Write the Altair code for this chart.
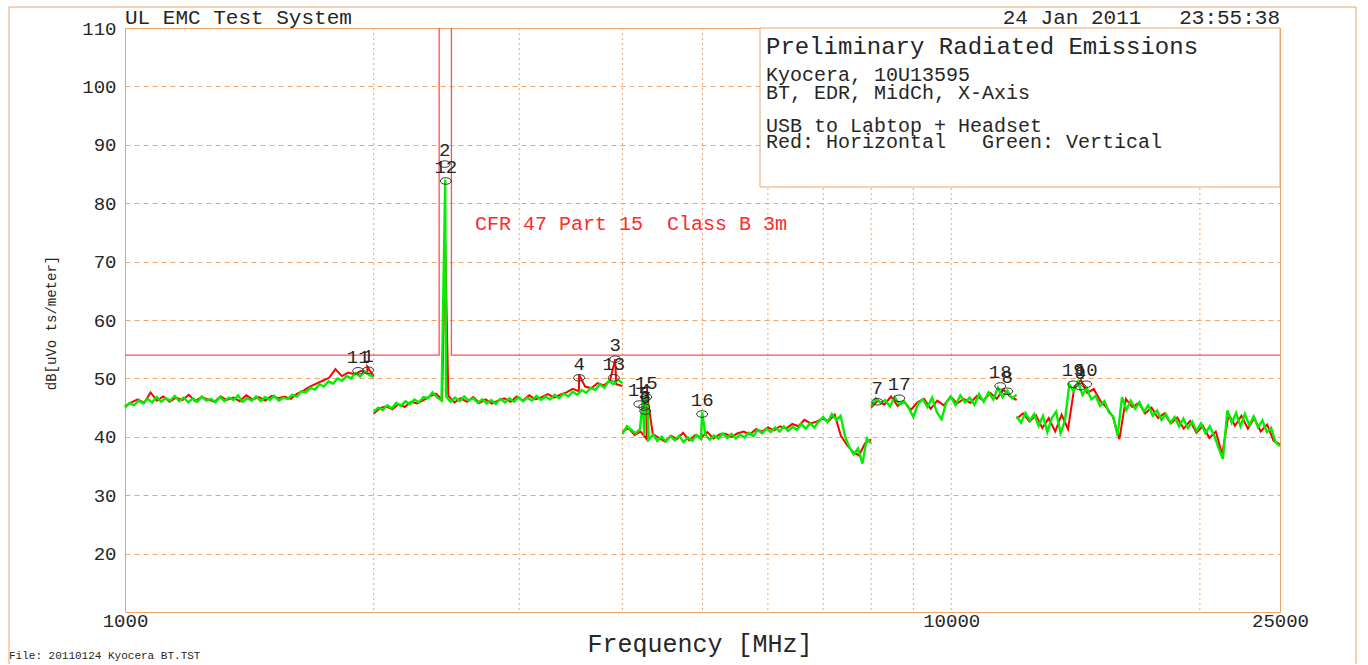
import numpy as np
import pandas as pd
import altair as alt

# ---- sweep bands (MHz); each band is a separate analyzer sweep ----
BAND_START = [1000, 2000, 4000, 8000, 12000]
BAND_STOP = [2000, 4000, 8000, 12000, 25000]

# ---- vertical polarization (green) peak readings, dBuV/m, per band ----
VERT_1 = [45.0, 45.8, 45.4, 46.2, 45.7, 46.5, 45.9, 46.8, 46.0, 46.6, 46.2, 47.0, 46.1, 46.7,
          45.9, 46.6, 46.0, 46.9, 46.2, 46.5, 45.9, 46.8, 46.1, 46.7, 46.3, 47.1, 46.0, 46.6,
          46.2, 46.9, 46.1, 46.8, 46.3, 47.0, 46.2, 46.7, 46.5, 47.2, 46.9, 47.8, 47.6, 48.4,
          48.1, 49.0, 48.6, 49.5, 49.1, 50.0, 49.6, 50.4, 50.0, 50.9, 50.3, 51.2, 50.6, 50.2]
VERT_2 = [44.3, 45.0, 44.6, 45.4, 44.9, 45.8, 45.3, 46.1, 45.6, 46.4, 45.9, 46.8, 46.6, 47.6,
          46.8, 46.2, 46.9, 46.0, 46.7, 46.1, 46.9, 46.2, 46.6, 45.8, 46.4, 45.7, 46.3, 45.6,
          46.5, 45.9, 46.6, 46.0, 46.8, 46.1, 46.7, 46.2, 47.0, 46.3, 46.9, 46.4, 47.2, 46.6,
          47.4, 46.9, 47.7, 47.2, 48.0, 47.5, 48.4, 48.0, 49.0, 48.4, 49.6, 49.0, 49.8, 49.2]
VERT_3 = [40.5, 41.8, 41.2, 40.6, 41.3, 40.2, 39.5, 40.4, 39.3, 40.0, 39.2, 40.1, 39.4, 40.2,
          39.1, 39.9, 39.3, 40.3, 39.6, 40.4, 39.5, 40.2, 39.7, 40.6, 39.8, 40.5, 39.7, 40.4,
          39.9, 40.7, 40.1, 41.2, 40.6, 41.4, 40.8, 41.6, 40.9, 41.8, 41.0, 41.7, 41.2, 42.2,
          41.4, 42.3, 41.6, 42.6, 43.4, 42.5, 43.9, 42.9, 43.6, 40.1, 38.2, 37.0, 38.0, 35.4,
          39.7, 38.9]
VERT_4 = [45.3, 46.6, 45.8, 46.3, 45.2, 46.8, 45.6, 46.1, 44.9, 43.4, 45.7, 46.4, 45.1, 46.7,
          44.2, 43.0, 45.9, 46.8, 45.4, 47.1, 45.9, 46.7, 45.5, 47.3, 46.0, 47.6, 46.4, 48.4,
          46.8, 47.9, 46.6, 47.2]
VERT_5 = [43.5, 42.4, 44.1, 42.8, 43.9, 41.9, 43.6, 40.8, 43.2, 44.3, 40.6, 42.8, 49.0, 47.8,
          49.4, 47.2, 48.3, 46.4, 47.0, 45.3, 46.1, 44.2, 43.5, 40.2, 46.8, 44.6, 46.2, 44.8,
          45.9, 44.3, 45.4, 43.6, 44.5, 42.9, 43.9, 42.4, 43.4, 41.8, 43.1, 41.5, 42.6, 41.0,
          42.3, 40.6, 41.8, 40.2, 38.1, 36.2, 44.5, 42.4, 44.1, 41.8, 43.9, 42.0, 43.5, 41.6,
          42.8, 40.8, 41.5, 39.0, 38.4]

# ---- horizontal polarization (red) peak readings, dBuV/m, per band ----
HORZ_1 = [45.2, 45.9, 46.4, 45.8, 47.6, 46.2, 46.9, 46.0, 46.7, 46.3, 47.2, 46.1, 46.8, 46.4,
          46.0, 46.9, 46.3, 46.7, 46.1, 47.1, 46.4, 46.8, 46.2, 47.0, 46.6, 46.9, 46.5, 47.4,
          47.9, 48.6, 49.1, 49.6, 50.1, 51.6, 50.4, 51.0, 50.7, 51.3, 50.8, 50.3]
HORZ_2 = [44.0, 44.9, 45.2, 44.7, 45.6, 45.1, 46.0, 45.7, 46.3, 46.9, 47.4, 46.4, 47.0, 45.9,
          46.6, 46.0, 46.8, 45.8, 46.4, 45.7, 46.2, 46.6, 46.0, 46.9, 46.2, 47.1, 46.4, 46.8,
          47.3, 46.7, 47.2, 47.6, 48.2, 47.8, 48.6, 48.3, 49.2, 48.8, 49.6, 49.0, 48.7]
HORZ_3 = [40.9, 41.5, 40.3, 40.9, 39.6, 40.5, 39.8, 39.2, 40.2, 39.6, 40.7, 39.4, 40.3, 39.9,
          40.8, 39.7, 40.4, 40.5, 40.0, 40.6, 40.9, 40.4, 41.3, 40.9, 41.6, 41.1, 41.8, 41.4,
          42.2, 41.8, 42.9, 42.3, 42.6, 43.1, 42.7, 43.8, 40.2, 38.6, 37.4, 36.8, 38.9, 39.5]
HORZ_4 = [45.0, 46.2, 45.5, 46.9, 45.3, 46.0, 44.6, 45.9, 46.5, 44.8, 46.2, 45.4, 46.9, 45.7,
          46.5, 45.8, 47.0, 46.2, 47.5, 46.5, 48.1, 46.9, 46.3]
HORZ_5 = [43.1, 44.0, 42.6, 43.7, 41.5, 43.2, 40.9, 43.8, 41.3, 48.6, 49.7, 47.5, 48.2, 46.2,
          45.0, 43.4, 39.6, 46.5, 45.1, 45.8, 44.0, 45.0, 43.2, 44.0, 42.3, 43.3, 41.4, 42.7,
          40.7, 41.9, 39.8, 40.9, 37.0, 43.9, 41.9, 43.6, 41.4, 43.2, 40.9, 42.1, 39.3, 38.7]

# ---- narrow emissions caught by the peak detector ----
VERT_SPIKE_MHZ = [2441, 4235, 4262, 4290, 4995]
VERT_SPIKE_DB = [84.0, 46.3, 47.0, 45.5, 44.2]
HORZ_SPIKE_MHZ = [1965, 2441, 3545, 3920, 4280]
HORZ_SPIKE_DB = [52.0, 73.2, 50.6, 53.3, 47.7]

# ---- FCC Part 15 Class B 3 m limit; no limit inside the 2400-2483.5 MHz band ----
LIMIT_MHZ = [1000, 2400, 2400, 2483.5, 2483.5, 25000]
LIMIT_DB = [54, 54, 120, 120, 54, 54]

# ---- numbered markers ----
MARKER_LABEL = ["1", "11", "2", "12", "3", "13", "4", "5", "6", "14", "15", "16",
                "7", "17", "8", "18", "9", "10", "19"]
MARKER_MHZ = [1969, 1915, 2437, 2445, 3920, 3905, 3545, 4250, 4262, 4192, 4274, 4995,
              8136, 8650, 11690, 11465, 14330, 14570, 14050]
MARKER_DB = [51.4, 51.3, 86.7, 83.8, 53.3, 50.1, 50.1, 45.1, 44.4, 45.6, 46.8, 43.9,
             46.0, 46.6, 47.8, 48.7, 48.6, 49.0, 49.0]

GRID_MHZ = [2000, 3000, 4000, 5000, 6000, 7000, 8000, 9000, 10000, 20000]
X_TICKS = [1000, 10000, 25000]
Y_TICKS = [20, 30, 40, 50, 60, 70, 80, 90, 100, 110]

ORANGE = "#efa46a"
INK = "#262626"
FONT = "Liberation Mono"
NBSP = "\u00a0"
W, H = 1155, 584


def sweep(bands, spike_f, spike_db, pol):
    rows = []
    for b, vals in enumerate(bands):
        grid = np.geomspace(BAND_START[b], BAND_STOP[b], len(vals))
        pts = list(zip(grid, vals))
        for sf, sd in zip(spike_f, spike_db):
            if BAND_START[b] < sf < BAND_STOP[b]:
                pts.append((sf, sd))
        pts.sort()
        for f, v in pts:
            rows.append({"f": f, "level": v, "band": b, "pol": pol})
    return pd.DataFrame(rows)


horz = sweep([HORZ_1, HORZ_2, HORZ_3, HORZ_4, HORZ_5], HORZ_SPIKE_MHZ, HORZ_SPIKE_DB, "H")
vert = sweep([VERT_1, VERT_2, VERT_3, VERT_4, VERT_5], VERT_SPIKE_MHZ, VERT_SPIKE_DB, "V")
limit = pd.DataFrame({"f": LIMIT_MHZ, "level": LIMIT_DB, "i": range(len(LIMIT_MHZ))})
markers = pd.DataFrame({"f": MARKER_MHZ, "level": MARKER_DB, "label": MARKER_LABEL})
grid = pd.DataFrame({"f": GRID_MHZ})
one = pd.DataFrame({"k": [0]})

x_scale = alt.Scale(type="log", domain=[1000, 25000], nice=False)
y_scale = alt.Scale(domain=[10, 110], nice=False, zero=False)
X = alt.X("f:Q", scale=x_scale, axis=alt.Axis(
    values=X_TICKS, format="d", grid=False, ticks=False, domain=False,
    labelFlush=False, labelOverlap=False, labelPadding=-1, labelFont=FONT,
    labelFontSize=19, labelColor=INK, title=None))
Y = alt.Y("level:Q", scale=y_scale, axis=alt.Axis(
    values=Y_TICKS, grid=True, gridColor=ORANGE, gridOpacity=1, gridDash=[5, 4],
    gridWidth=1, ticks=False, domain=False, labelPadding=9, labelFont=FONT,
    labelFontSize=19, labelColor=INK, title=None))

x_grid = alt.Chart(grid).mark_rule(color=ORANGE, strokeDash=[2, 3], strokeWidth=1).encode(x=X)

info_box = alt.Chart(one).mark_rect(fill="white", stroke=ORANGE, strokeWidth=1).encode(
    x=alt.value(635), x2=alt.value(1155), y=alt.value(0), y2=alt.value(159))

limit_line = alt.Chart(limit).mark_line(color="#ff5050", strokeWidth=1.3, clip=True).encode(
    x=X, y=Y, order="i:Q")

red = alt.Chart(horz).mark_line(color="#ff0000", strokeWidth=2.0).encode(
    x=X, y=Y, detail="band:N", order="f:Q")
green = alt.Chart(vert).mark_line(color="#00f000", strokeWidth=2.4).encode(
    x=X, y=Y, detail="band:N", order="f:Q")

ellipse = "M -1 0 A 1 0.6 0 1 0 1 0 A 1 0.6 0 1 0 -1 0 Z"
marker_o = alt.Chart(markers).mark_point(
    shape=ellipse, size=121, filled=False, color="#333333", strokeWidth=1, opacity=1
).encode(x=X, y=Y)
marker_txt = alt.Chart(markers).mark_text(
    dy=-14, font=FONT, fontSize=19, color=INK, align="center", baseline="middle"
).encode(x=X, y=Y, text="label:N")


def label(text, x, y, size=19, color=INK, align="left", angle=0):
    return alt.Chart(one).mark_text(
        text=text, font=FONT, fontSize=size, color=color, align=align,
        baseline="middle", angle=angle
    ).encode(x=alt.value(x), y=alt.value(y))


texts = [
    label("UL EMC Test System", 0, -10, size=21),
    label("24 Jan 2011" + NBSP * 3 + "23:55:38", 1155, -10, size=21, align="right"),
    label("Preliminary Radiated Emissions", 641, 19, size=24),
    label("Kyocera, 10U13595", 641, 47, size=20),
    label("BT, EDR, MidCh, X-Axis", 641, 65, size=20),
    label("USB to Labtop + Headset", 641, 98, size=20),
    label("Red: Horizontal" + NBSP * 3 + "Green: Vertical", 641, 114, size=20),
    label("CFR 47 Part 15" + NBSP * 2 + "Class B 3m", 350, 196, size=20, color="#ff2a2a"),
    label("dB[uVo ts/meter]", -73, 295, size=14, align="center", angle=270),
    label("Frequency [MHz]", 575, 616, size=25, align="center"),
    label("File: 20110124 Kyocera BT.TST", -116, 628, size=11),
]

outer = alt.Chart(one).mark_rect(fillOpacity=0, stroke=ORANGE, strokeWidth=1).encode(
    x=alt.value(-116), x2=alt.value(1231), y=alt.value(-21), y2=alt.value(650))

chart = alt.layer(
    x_grid, info_box, limit_line, red, green, marker_o, marker_txt, *texts, outer
).properties(
    width=W, height=H,
    autosize=alt.AutoSizeParams(type="none"),
    padding={"left": 125, "top": 28, "right": 88, "bottom": 52},
    background="white",
).configure_view(stroke=ORANGE, strokeWidth=1)

chart.save("out.html", embed_options={"renderer": "svg", "actions": False})
